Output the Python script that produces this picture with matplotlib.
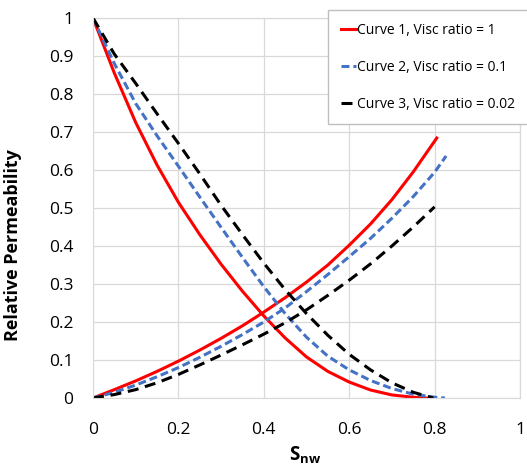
import matplotlib
matplotlib.use("Agg")
import matplotlib.pyplot as plt
from matplotlib.lines import Line2D

plt.rcParams['font.family'] = ['Open Sans', 'DejaVu Sans']
plt.rcParams['mathtext.fontset'] = 'custom'
plt.rcParams['mathtext.bf'] = 'Open Sans:bold'
plt.rcParams['mathtext.rm'] = 'Open Sans'

# Curve 1 (viscosity ratio 1)
s_w1 = [0, 0.05, 0.1, 0.15, 0.2, 0.25, 0.3, 0.35, 0.4, 0.45, 0.5, 0.55,
        0.6, 0.65, 0.7, 0.75, 0.78]
kr_w1 = [1, 0.855, 0.725, 0.613, 0.515, 0.43, 0.352, 0.281, 0.216, 0.158,
         0.108, 0.07, 0.042, 0.021, 0.008, 0.002, 0]
s_nw1 = [0, 0.05, 0.1, 0.15, 0.2, 0.25, 0.3, 0.35, 0.4, 0.45, 0.5, 0.55,
         0.6, 0.65, 0.7, 0.75, 0.805]
kr_nw1 = [0, 0.022, 0.045, 0.07, 0.097, 0.126, 0.157, 0.19, 0.226, 0.264,
          0.305, 0.35, 0.402, 0.458, 0.522, 0.595, 0.684]

# Curve 2 (viscosity ratio 0.1)
s_w2 = [0, 0.05, 0.1, 0.15, 0.2, 0.25, 0.3, 0.35, 0.4, 0.45, 0.5, 0.55,
        0.6, 0.65, 0.7, 0.75, 0.8, 0.824]
kr_w2 = [1, 0.88, 0.775, 0.69, 0.61, 0.529, 0.449, 0.37, 0.293, 0.222,
         0.16, 0.11, 0.074, 0.046, 0.025, 0.01, 0.002, 0]
s_nw2 = [0, 0.05, 0.1, 0.15, 0.2, 0.25, 0.3, 0.35, 0.4, 0.45, 0.5, 0.55,
         0.6, 0.65, 0.7, 0.75, 0.8, 0.827]
kr_nw2 = [0, 0.015, 0.034, 0.056, 0.08, 0.107, 0.136, 0.167, 0.2, 0.237,
          0.28, 0.325, 0.372, 0.42, 0.473, 0.53, 0.594, 0.637]

# Curve 3 (viscosity ratio 0.02)
s_w3 = [0, 0.05, 0.1, 0.15, 0.2, 0.25, 0.3, 0.35, 0.4, 0.45, 0.5, 0.55,
        0.6, 0.65, 0.7, 0.75, 0.797]
kr_w3 = [1, 0.905, 0.828, 0.748, 0.67, 0.59, 0.507, 0.43, 0.355, 0.285,
         0.222, 0.165, 0.115, 0.074, 0.04, 0.015, 0]
s_nw3 = [0, 0.05, 0.1, 0.15, 0.2, 0.25, 0.3, 0.35, 0.4, 0.45, 0.5, 0.55,
         0.6, 0.65, 0.7, 0.75, 0.8]
kr_nw3 = [0, 0.009, 0.022, 0.04, 0.062, 0.087, 0.113, 0.14, 0.168, 0.198,
          0.232, 0.27, 0.31, 0.353, 0.4, 0.45, 0.503]

labels = ["Curve 1, Visc ratio = 1",
          "Curve 2, Visc ratio = 0.1",
          "Curve 3, Visc ratio = 0.02"]
x_ticks = [0, 0.2, 0.4, 0.6, 0.8, 1]
x_tick_labels = ["0", "0.2", "0.4", "0.6", "0.8", "1"]
y_ticks = [0, 0.1, 0.2, 0.3, 0.4, 0.5, 0.6, 0.7, 0.8, 0.9, 1]
y_tick_labels = ["0", "0.1", "0.2", "0.3", "0.4", "0.5", "0.6", "0.7", "0.8", "0.9", "1"]

RED = "#FF0000"
BLUE = "#4472C4"
BLACK = "#000000"
GRID = "#D9D9D9"

fig = plt.figure(figsize=(5.27, 4.67), dpi=100)
ax = fig.add_axes([93 / 527, 1 - 398 / 467, 427 / 527, 380 / 467])

lw = 2.2
blue_dash = (0, (2.6, 1.3))
black_dash = (0, (3.6, 2.2))

ax.plot(s_w1, kr_w1, color=RED, lw=lw)
ax.plot(s_nw1, kr_nw1, color=RED, lw=lw)
ax.plot(s_w2, kr_w2, color=BLUE, lw=lw, linestyle=blue_dash)
ax.plot(s_nw2, kr_nw2, color=BLUE, lw=lw, linestyle=blue_dash)
ax.plot(s_w3, kr_w3, color=BLACK, lw=lw, linestyle=black_dash)
ax.plot(s_nw3, kr_nw3, color=BLACK, lw=lw, linestyle=black_dash)

ax.set_xlim(0, 1)
ax.set_ylim(0, 1)
ax.set_xticks(x_ticks)
ax.set_xticklabels(x_tick_labels)
ax.set_yticks(y_ticks)
ax.set_yticklabels(y_tick_labels)
ax.tick_params(length=0, labelsize=12.5, colors="#000000")
ax.tick_params(axis='y', pad=14)
ax.tick_params(axis='x', pad=17)
for sp in ax.spines.values():
    sp.set_visible(False)
for side in ('left', 'bottom'):
    ax.spines[side].set_visible(True)
    ax.spines[side].set_color(GRID)
ax.grid(True, color=GRID, lw=0.9)
ax.set_axisbelow(True)
ax.axhline(1, color=GRID, lw=0.9, zorder=0, clip_on=False)
ax.axvline(1, color=GRID, lw=0.9, zorder=0, clip_on=False)

ax.set_ylabel("Relative Permeability", fontsize=13, fontweight='bold')
ax.yaxis.set_label_coords(-0.166, 0.403)
ax.set_xlabel(r"$\mathbf{S_{nw}}$", fontsize=13.5)
ax.xaxis.set_label_coords(0.4965, -0.124)

handles = [
    Line2D([], [], color=RED, lw=lw),
    Line2D([], [], color=BLUE, lw=lw, linestyle=blue_dash),
    Line2D([], [], color=BLACK, lw=lw, linestyle=black_dash),
]
leg = fig.legend(handles, labels, loc='upper left',
                 bbox_to_anchor=(328 / 527, 1 - 10 / 467),
                 fontsize=10, frameon=True, fancybox=False,
                 edgecolor="#BFBFBF", framealpha=1,
                 handlelength=1.1, handletextpad=0.1,
                 labelspacing=1.6, borderpad=0.9, borderaxespad=0)
leg.get_frame().set_linewidth(1.0)

fig.savefig("out.png", dpi=100)
